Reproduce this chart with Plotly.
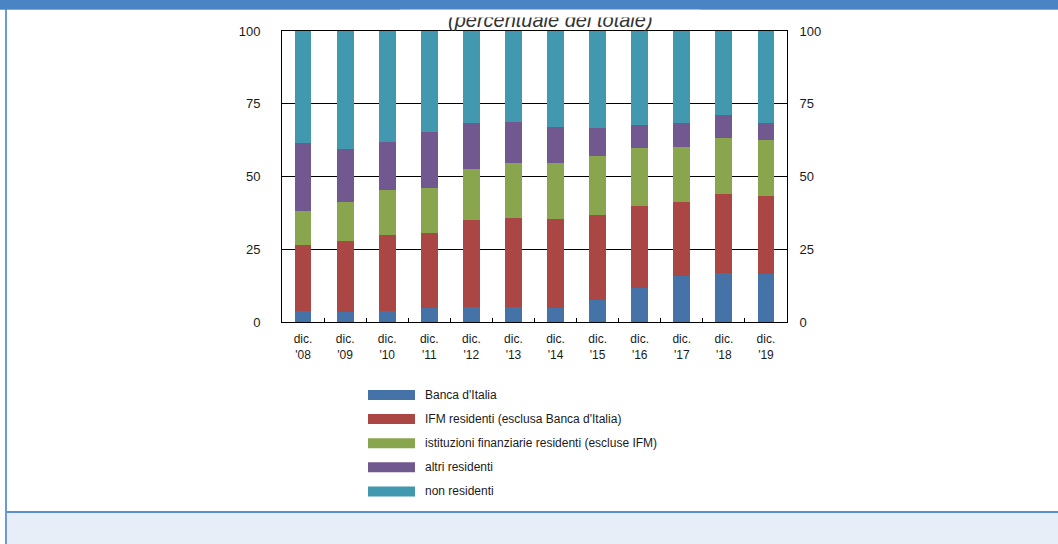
import plotly.graph_objects as go

# ---- data ----
years = ["'08", "'09", "'10", "'11", "'12", "'13", "'14", "'15", "'16", "'17", "'18", "'19"]
categories = ["dic.<br>" + y for y in years]

banca_italia = [3.7, 3.4, 3.9, 4.8, 5.0, 5.0, 4.9, 7.6, 11.8, 15.7, 16.9, 16.6]
ifm_residenti = [22.9, 24.4, 26.0, 25.9, 29.9, 30.8, 30.4, 29.2, 28.0, 25.7, 27.1, 26.6]
ist_finanziarie = [11.6, 13.6, 15.5, 15.5, 17.7, 19.0, 19.5, 20.3, 19.9, 18.7, 19.3, 19.2]
altri_residenti = [23.2, 18.1, 16.5, 19.1, 15.7, 14.0, 12.3, 9.6, 8.1, 8.2, 7.8, 6.0]
non_residenti = [38.6, 40.5, 38.1, 34.7, 31.7, 31.2, 32.9, 33.3, 32.2, 31.7, 28.9, 31.6]

series_names = [
    "Banca d'Italia",
    "IFM residenti (esclusa Banca d'Italia)",
    "istituzioni finanziarie residenti (escluse IFM)",
    "altri residenti",
    "non residenti",
]
series_values = [banca_italia, ifm_residenti, ist_finanziarie, altri_residenti, non_residenti]
colors = ["#4572A7", "#AA4643", "#89A54E", "#71588F", "#4198AF"]

y_ticks = [0, 25, 50, 75, 100]
title_text = "(percentuale del totale)"

# ---- geometry ----
W, H = 1058, 544
L, R, T, B = 282, 271, 31, 222
PW = W - L - R
PH = H - T - B


def px(x):
    return (x - L) / PW


def py(y):
    return (H - B - y) / PH


FONT = "Arial, Liberation Sans, sans-serif"
TXT = "#1a1a1a"

fig = go.Figure()
for name, vals, col in zip(series_names, series_values, colors):
    fig.add_trace(go.Bar(x=categories, y=vals, name=name, marker=dict(color=col, line=dict(width=0)),
                         showlegend=False))

# invisible helper so that the right-hand axis gets drawn with its labels
fig.add_trace(go.Scatter(x=categories, y=non_residenti, yaxis="y2", mode="markers",
                         marker=dict(opacity=0, size=1), showlegend=False, hoverinfo="skip"))

fig.update_layout(
    width=W, height=H,
    margin=dict(l=L, r=R, t=T, b=B, pad=0),
    barmode="stack",
    bargap=0.6,
    paper_bgcolor="white",
    plot_bgcolor="white",
    font=dict(family=FONT, size=12, color=TXT),
    xaxis=dict(
        type="category", range=[-0.5, 11.5],
        showline=True, linecolor="black", linewidth=1, mirror=True,
        ticks="inside", tickson="boundaries", ticklen=4, tickcolor="black",
        ticklabelstandoff=6,
        showgrid=False, tickfont=dict(size=12, color=TXT, family=FONT),
    ),
    yaxis=dict(
        range=[0, 100], tickvals=y_ticks, showline=True, linecolor="black", linewidth=1,
        showgrid=True, gridcolor="black", gridwidth=1, zeroline=False,
        ticks="", ticklabelstandoff=18, tickfont=dict(size=13, color=TXT, family=FONT),
    ),
    yaxis2=dict(
        range=[0, 100], tickvals=y_ticks, overlaying="y", side="right",
        showline=True, linecolor="black", linewidth=1, showgrid=False, zeroline=False,
        ticks="", ticklabelstandoff=9, tickfont=dict(size=13, color=TXT, family=FONT),
    ),
)

shapes = []
annotations = []

# title (its upper part is hidden, as in the original)
annotations.append(dict(xref="paper", yref="paper", x=px(550), y=py(20), xanchor="center", yanchor="middle",
                        text="<i>" + title_text + "</i>", showarrow=False,
                        font=dict(size=20, color="#333333", family=FONT)))
# white cover hiding the top of the title
annotations.append(dict(xref="paper", yref="paper", x=px(550), y=py(13.5), xanchor="center", yanchor="middle",
                        text=" ", showarrow=False, width=300, height=8, bgcolor="white", borderpad=0,
                        font=dict(size=1)))
# header band
annotations.append(dict(xref="paper", yref="paper", x=px(W / 2), y=py(4.5), xanchor="center", yanchor="middle",
                        text=" ", showarrow=False, width=W, height=9, bgcolor="#4A84C4", borderpad=0,
                        font=dict(size=1)))

# header light line
shapes.append(dict(type="rect", xref="paper", yref="paper", x0=px(0), x1=px(W), y0=py(10), y1=py(9),
                   fillcolor="#B3CDEE", line=dict(width=0), layer="below"))
# left frame line
shapes.append(dict(type="rect", xref="paper", yref="paper", x0=px(5), x1=px(7), y0=py(H), y1=py(9),
                   fillcolor="#6A9BD6", line=dict(width=0), layer="below"))
# bottom band
shapes.append(dict(type="rect", xref="paper", yref="paper", x0=px(7), x1=px(W), y0=py(H), y1=py(513),
                   fillcolor="#E8EEF7", line=dict(width=0), layer="below"))
shapes.append(dict(type="rect", xref="paper", yref="paper", x0=px(7), x1=px(W), y0=py(513), y1=py(511),
                   fillcolor="#5B8FD0", line=dict(width=0), layer="below"))

# legend
row0, step = 395, 24.1
for i, (name, col) in enumerate(zip(series_names, colors)):
    cy = row0 + step * i
    shapes.append(dict(type="rect", xref="paper", yref="paper", x0=px(368), x1=px(415),
                       y0=py(cy + 5), y1=py(cy - 5), fillcolor=col, line=dict(width=0)))
    annotations.append(dict(xref="paper", yref="paper", x=px(423), y=py(cy), xanchor="left", yanchor="middle",
                            text=name, showarrow=False, font=dict(size=12, color=TXT, family=FONT)))

fig.update_layout(shapes=shapes, annotations=annotations)

fig.write_html("out.html")
